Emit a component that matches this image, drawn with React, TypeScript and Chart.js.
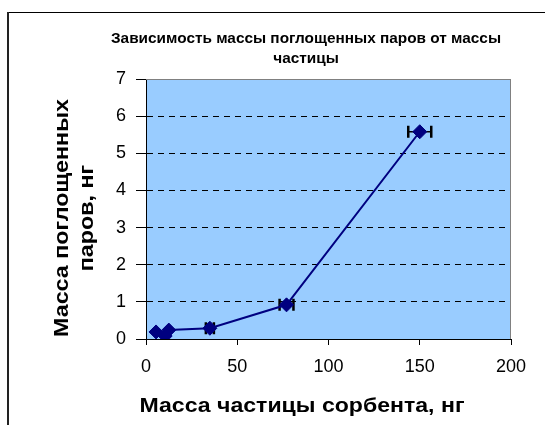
import React, { useEffect, useRef } from "react";
import { Chart, registerables } from "chart.js";

Chart.register(...registerables);

const particleMass: number[] = [5.5, 10.5, 12.5, 35, 77, 150];
const vaporMass: number[] = [0.19, 0.08, 0.24, 0.29, 0.92, 5.58];
const xError: number[] = [0, 0, 0, 2.2, 3.8, 6.3];
const xTicks: number[] = [0, 50, 100, 150, 200];
const yTicks: number[] = [0, 1, 2, 3, 4, 5, 6, 7];
const chartTitle: string[] = ["Зависимость массы поглощенных паров от массы", "частицы"];
const xTitle = "Масса частицы сорбента, нг";
const yTitle: string[] = ["Масса поглощенных", "паров, нг"];

const FONT = "'Liberation Sans', Arial, sans-serif";
const NAVY = "#000080";

function stretchedText(ctx: any, text: string, x: number, y: number, factor: number) {
  ctx.save();
  ctx.translate(x, y);
  ctx.scale(factor, 1);
  ctx.fillText(text, 0, 0);
  ctx.restore();
}

const decorPlugin = {
  id: "decor",
  beforeDraw(chart: any) {
    const { ctx, chartArea } = chart;
    ctx.save();
    ctx.fillStyle = "#99CCFF";
    ctx.fillRect(chartArea.left, chartArea.top, chartArea.right - chartArea.left, chartArea.bottom - chartArea.top);
    ctx.restore();
  },
  beforeDatasetsDraw(chart: any) {
    const { ctx, chartArea, scales } = chart;
    ctx.save();
    ctx.strokeStyle = "#808080";
    ctx.lineWidth = 1;
    ctx.beginPath();
    ctx.moveTo(chartArea.left, Math.round(chartArea.top) + 0.5);
    ctx.lineTo(chartArea.right, Math.round(chartArea.top) + 0.5);
    ctx.moveTo(Math.round(chartArea.right) - 0.5, chartArea.top);
    ctx.lineTo(Math.round(chartArea.right) - 0.5, chartArea.bottom);
    ctx.stroke();
    ctx.strokeStyle = "#000000";
    for (let i = 0; i < particleMass.length; i++) {
      const e = xError[i];
      if (!e) continue;
      const y = scales.y.getPixelForValue(vaporMass[i]);
      const x1 = scales.x.getPixelForValue(particleMass[i] - e);
      const x2 = scales.x.getPixelForValue(particleMass[i] + e);
      ctx.lineWidth = 1.5;
      ctx.beginPath();
      ctx.moveTo(x1, y);
      ctx.lineTo(x2, y);
      ctx.stroke();
      ctx.lineWidth = 2.5;
      ctx.beginPath();
      ctx.moveTo(x1, y - 6);
      ctx.lineTo(x1, y + 6);
      ctx.moveTo(x2, y - 6);
      ctx.lineTo(x2, y + 6);
      ctx.stroke();
    }
    ctx.restore();
  },
  afterDraw(chart: any) {
    const { ctx } = chart;
    ctx.save();
    ctx.fillStyle = "#000000";
    ctx.fillRect(7, 12, 545, 1);
    ctx.fillStyle = "#222222";
    ctx.fillRect(7, 12, 2, 425);
    ctx.fillStyle = "#000000";
    ctx.textAlign = "center";
    ctx.textBaseline = "middle";
    ctx.font = `bold 14px ${FONT}`;
    const tf = 390 / ctx.measureText(chartTitle[0]).width;
    stretchedText(ctx, chartTitle[0], 306, 39, tf);
    stretchedText(ctx, chartTitle[1], 306, 59, tf);
    ctx.font = `bold 20px ${FONT}`;
    const xf = 325 / ctx.measureText(xTitle).width;
    stretchedText(ctx, xTitle, 302, 406, xf);
    const yf = 238 / ctx.measureText(yTitle[0]).width;
    ctx.translate(62, 218);
    ctx.rotate(-Math.PI / 2);
    stretchedText(ctx, yTitle[0], 0, 0, yf);
    stretchedText(ctx, yTitle[1], 0, 25, yf);
    ctx.restore();
  },
};

export default function App() {
  const ref = useRef<HTMLCanvasElement | null>(null);
  useEffect(() => {
    if (!ref.current) return;
    const chart = new Chart(ref.current, {
      type: "line",
      data: {
        datasets: [
          {
            data: particleMass.map((x, i) => ({ x, y: vaporMass[i] })),
            borderColor: NAVY,
            backgroundColor: NAVY,
            borderWidth: 2,
            pointStyle: "rectRot",
            pointRadius: 7,
            pointBackgroundColor: NAVY,
            pointBorderColor: NAVY,
            pointBorderWidth: 1,
            tension: 0,
          },
        ],
      },
      options: {
        responsive: false,
        animation: false,
        layout: { padding: { top: 79, left: 0, right: 34, bottom: 0 } },
        plugins: { legend: { display: false }, title: { display: false }, tooltip: { enabled: false } },
        scales: {
          x: {
            type: "linear",
            min: 0,
            max: 200,
            afterFit: (s: any) => {
              s.height = 86;
            },
            afterBuildTicks: (s: any) => {
              s.ticks = xTicks.map((v) => ({ value: v }));
            },
            ticks: { font: { family: FONT, size: 18 }, color: "#000", padding: 11 },
            grid: { drawOnChartArea: false, drawTicks: true, tickLength: 6, tickColor: "#000", color: "#000" },
            border: { color: "#000", width: 1 },
          },
          y: {
            type: "linear",
            min: 0,
            max: 7,
            afterFit: (s: any) => {
              s.width = 146;
            },
            afterBuildTicks: (s: any) => {
              s.ticks = yTicks.map((v) => ({ value: v }));
            },
            ticks: { font: { family: FONT, size: 18 }, color: "#000", padding: 10 },
            grid: {
              drawTicks: true,
              tickLength: 10,
              tickColor: "#000",
              tickBorderDash: [],
              color: (c: any) => (c.tick && (c.tick.value === 0 || c.tick.value === 7) ? "rgba(0,0,0,0)" : "#000"),
              lineWidth: 1,
            },
            border: { color: "#000", width: 1, dash: [6, 5] },
          },
        },
      },
      plugins: [decorPlugin],
    } as any);
    return () => chart.destroy();
  }, []);
  return (
    <div style={{ position: "absolute", left: 0, top: 0, width: 545, height: 425, background: "#fff" }}>
      <canvas ref={ref} width={545} height={425} style={{ display: "block" }} />
    </div>
  );
}
